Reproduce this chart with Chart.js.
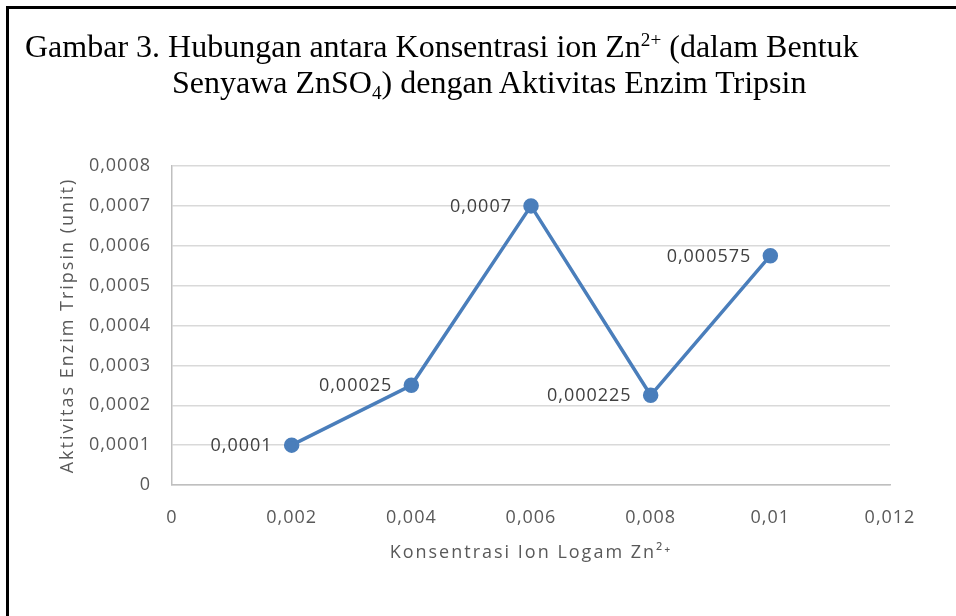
<!DOCTYPE html>
<html lang="id">
  <head>
    <meta charset="UTF-8" />
    <title>Gambar 3</title>
    <script src="https://cdn.jsdelivr.net/npm/chart.js@4.4.0/dist/chart.umd.min.js"></script>
    <style>
      body { margin: 0; background: #fff; }
      #frame { position: absolute; left: 6px; top: 6px; width: 960px; height: 620px;
               border-left: 3px solid #000; border-top: 3px solid #000; }
      .judul { position: absolute; font-family: "Liberation Serif", "Times New Roman", serif;
               font-size: 32px; color: #000; white-space: nowrap; line-height: 1; }
      .judul sup { font-size: 0.6em; vertical-align: 0.55em; }
      .judul sub { font-size: 0.6em; vertical-align: -0.3em; }
      #wrap { position: absolute; left: 0; top: 0; width: 956px; height: 616px; }
    </style>
  </head>
  <body>
    <div id="frame"></div>
    <div id="wrap"><canvas id="myChart"></canvas></div>
    <div class="judul" style="left:25px; top:30px">Gambar 3. Hubungan antara Konsentrasi ion Zn<sup>2+</sup> (dalam Bentuk</div>
    <div class="judul" style="left:172px; top:66px">Senyawa ZnSO<sub>4</sub>) dengan Aktivitas Enzim Tripsin</div>

    <script>
      // data
      const konsentrasi = [0.002, 0.004, 0.006, 0.008, 0.01];
      const aktivitas = [0.0001, 0.00025, 0.0007, 0.000225, 0.000575];
      const xTicks = ['0', '0,002', '0,004', '0,006', '0,008', '0,01', '0,012'];
      const yTicks = ['0', '0,0001', '0,0002', '0,0003', '0,0004', '0,0005', '0,0006', '0,0007', '0,0008'];

      const tickFont = { family: '"Open Sans", sans-serif', size: 18 };
      const grey = '#595959';

      // judul sumbu ditulis lebih renggang
      function renggangJudul(s) {
        if (s._patched) return;
        s._patched = true;
        const asli = s.drawTitle;
        s.drawTitle = function () {
          this.ctx.letterSpacing = '2px';
          asli.call(this);
          this.ctx.letterSpacing = '1px';
        };
      }

      // label nilai di kiri tiap titik
      const labelTitik = {
        id: 'labelTitik',
        beforeDraw(chart) { chart.ctx.letterSpacing = '1px'; },
        afterDatasetsDraw(chart) {
          const ctx = chart.ctx;
          const meta = chart.getDatasetMeta(0);
          ctx.save();
          ctx.letterSpacing = '1px';
          ctx.font = '18px "Open Sans", sans-serif';
          ctx.fillStyle = '#404040';
          ctx.textAlign = 'right';
          ctx.textBaseline = 'middle';
          meta.data.forEach((pt, i) => {
            ctx.fillText(String(aktivitas[i]).replace('.', ','), pt.x - 19, pt.y + 1);
          });
          ctx.restore();
        }
      };

      const ctx = document.getElementById('myChart').getContext('2d');
      new Chart(ctx, {
        type: 'scatter',
        data: {
          datasets: [{
            data: konsentrasi.map((x, i) => ({ x: x, y: aktivitas[i] })),
            showLine: true,
            borderColor: '#4a7ebb',
            backgroundColor: '#4a7ebb',
            borderWidth: 3.5,
            pointRadius: 6,
            pointHoverRadius: 6
          }]
        },
        options: {
          responsive: true,
          maintainAspectRatio: false,
          animation: false,
          layout: { padding: { left: 0, top: 166, right: 66, bottom: 0 } },
          plugins: { legend: { display: false }, tooltip: { enabled: false } },
          scales: {
            x: {
              type: 'linear', min: 0, max: 0.012,
              afterFit(s) { s.height = 131; renggangJudul(s); },
              grid: { display: false, drawTicks: false },
              border: { display: true, color: '#bfbfbf', width: 1.5 },
              ticks: { stepSize: 0.002, padding: 22, color: grey, font: tickFont,
                       callback: (v, i) => xTicks[i] },
              title: { display: true, text: 'Konsentrasi Ion Logam Zn²⁺', color: grey,
                       font: tickFont, padding: { top: 0, bottom: 52 } }
            },
            y: {
              type: 'linear', min: 0, max: 0.0008,
              afterFit(s) { s.width = 172; renggangJudul(s); },
              grid: { color: '#d9d9d9', lineWidth: 1.5, drawTicks: false },
              border: { display: true, color: '#bfbfbf', width: 1.5 },
              ticks: { stepSize: 0.0001, padding: 21, color: grey, font: tickFont,
                       callback: (v, i) => yTicks[i] },
              title: { display: true, text: 'Aktivitas Enzim Tripsin (unit)', color: grey,
                       font: tickFont, padding: { top: 57, bottom: 0 } }
            }
          }
        },
        plugins: [labelTitik]
      });
    </script>
  </body>
</html>
